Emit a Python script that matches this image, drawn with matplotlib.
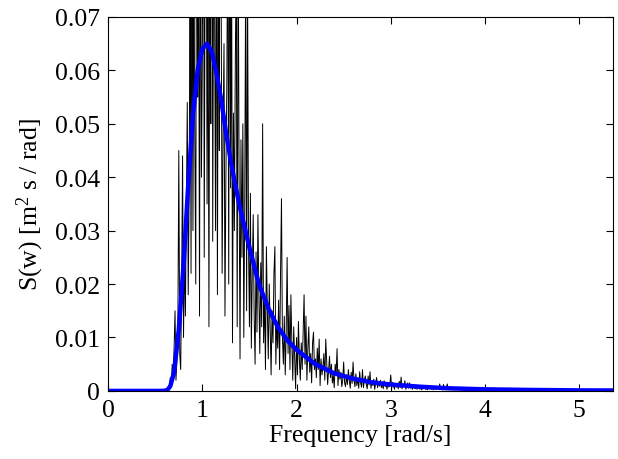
import numpy as np
import matplotlib
matplotlib.use("Agg")
import matplotlib.pyplot as plt

plt.rcParams['font.family'] = ['Liberation Serif', 'DejaVu Serif']
plt.rcParams['mathtext.fontset'] = 'custom'
plt.rcParams['mathtext.rm'] = 'Liberation Serif'
plt.rcParams['mathtext.it'] = 'Liberation Serif:italic'

# Smooth theoretical spectrum (blue)
model_freq = [0.0, 0.55, 0.60, 0.63, 0.66, 0.70, 0.75, 0.80, 0.85, 0.90, 0.95,
              1.00, 1.05, 1.10, 1.15, 1.20, 1.25, 1.30, 1.35, 1.40, 1.50,
              1.60, 1.70, 1.80, 1.90, 2.00, 2.20, 2.40, 2.60, 2.80, 3.00,
              3.30, 3.60, 4.00, 4.50, 5.00, 5.36]
model_spec = [0.0, 0.0, 0.00003, 0.0002, 0.0009, 0.0035, 0.0115, 0.0235, 0.0385, 0.0515, 0.0600,
              0.0640, 0.0650, 0.0635, 0.0595, 0.0545, 0.0485, 0.0432, 0.0385, 0.0343, 0.0268,
              0.0200, 0.0155, 0.0120, 0.0095, 0.0077, 0.0050, 0.0033, 0.0023, 0.0016, 0.0012,
              0.0008, 0.0005, 0.0003, 0.00018, 0.0001, 0.00008]

# Raw (noisy) spectrum estimate, black, in units of 1e-3, sampled every 0.01 rad/s from 0.6
raw_start = 0.6
raw_step = 0.01
raw_spec_milli = [
    0, 0, 0, 0, 0.2, 0.8, 2.5, 1, 5, 3,
    8, 15, 2, 6, 11, 45, 7, 4, 20, 44,
    10, 26, 14, 35, 54, 18, 38, 80, 22, 95,
    30, 75, 48, 20, 120, 55, 90, 14, 105, 40,
    62, 140, 25, 88, 110, 35, 78, 12, 95, 50,
    160, 28, 85, 72, 30, 100, 18, 92, 45, 130,
    74, 22, 48, 65, 14, 40, 58, 92, 20, 110,
    38, 85, 9, 52, 30, 62, 75, 12, 88, 40,
    6, 47, 25, 50, 10, 35, 80, 15, 76, 28,
    12, 37, 8, 22, 33, 14, 5, 26, 11, 33,
    18, 7, 24, 12, 50, 9, 18, 4, 27, 15,
    6, 20, 12, 3, 15, 9, 22, 27, 5, 13,
    8, 17, 4, 22, 36, 10, 5, 14, 3, 11,
    25, 7, 16, 4, 18, 9, 2, 12, 6, 0.4,
    10, 3, 13, 6, 2, 9, 4, 11, 18, 5,
    14, 2, 8, 12, 3.5, 7, 1.5, 9, 11, 4,
    6, 2.5, 8, 4, 9.7, 1, 6, 3, 4.5, 7,
    2, 9.7, 5.5, 1.2, 4, 6.5, 2.5, 5, 1.5, 3,
    0.6, 5, 3, 7.9, 1, 4, 2.2, 3.5, 0.8, 2,
    5.4, 1.5, 0.8, 3, 1.2, 4, 2, 0.5, 3.5, 1.4,
    5.4, 2, 0.8, 3.2, 1, 2.4, 0.5, 3.6, 1.5, 0.7,
    4, 0.6, 2, 2.8, 1.2, 0.4, 2.8, 1.1, 3.6, 0.5,
    1.8, 1, 2.2, 0.3, 1.5, 2.5, 0.6, 1.7, 0.9, 2,
    0.6, 1.4, 0.4, 1.9, 0.8, 1.2, 0.3, 1.6, 0.7, 1.1,
    3, 0.5, 1.6, 0.9, 0.3, 1.4, 0.7, 1.1, 0.4, 1.8,
    0.6, 2.6, 0.4, 1.1, 0.8, 1.9, 0.3, 0.8, 1.5, 0.5,
    1.5, 0.5, 0.9, 0.3, 1.1, 0.6, 0.4, 0.9, 0.3, 0.7,
    0.9, 0.3, 0.6, 0.2, 0.8, 0.4, 0.7, 0.3, 0.5, 0.2,
    0.6, 0.4, 0.5, 0.3, 0.7, 0.2, 0.4, 0.6, 0.3, 0.5,
    0.6, 0.4, 1.3, 0.3, 0.5, 0.2, 1.2, 0.4, 0.3, 0.6,
    1.3, 0.3, 0.4, 0.2, 0.5, 0.3, 0.6, 0.2, 0.4, 0.3,
    0.3, 0.5, 0.2, 0.3, 0.4, 0.2, 0.3, 0.2, 0.5, 0.2,
    0.3, 0.2, 0.4, 0.2, 0.3, 0.1, 0.2, 0.3, 0.1, 0.2,
    0.2, 0.3, 0.1, 0.2, 0.1, 0.3, 0.1, 0.7, 0.2, 0.1,
    0.2, 0.1, 0.2, 0.1, 0.3, 0.1, 0.1, 0.2, 0.1, 0.1,
    0.1, 0.2, 0.1, 0.1, 0.2, 0.1, 0.1, 0.1, 0.1, 0.1,
]

x_ticks = [0, 1, 2, 3, 4, 5]
y_ticks = [0, 0.01, 0.02, 0.03, 0.04, 0.05, 0.06, 0.07]
y_tick_labels = ['0', '0.01', '0.02', '0.03', '0.04', '0.05', '0.06', '0.07']

raw_spec = np.array(raw_spec_milli) / 1000.0
raw_freq = raw_start + raw_step * np.arange(len(raw_spec))

fig = plt.figure(figsize=(6.18, 4.60), dpi=100)
ax = fig.add_axes([0.175, 0.148, 0.817, 0.813])

ax.plot(raw_freq, raw_spec, color='black', lw=0.7)
ax.plot(model_freq, model_spec, color='#0000ff', lw=3.2, solid_capstyle='butt')

ax.set_xlim(0, 5.36)
ax.set_ylim(0, 0.07)
ax.set_xticks(x_ticks)
ax.set_xticklabels([str(t) for t in x_ticks])
ax.set_yticks(y_ticks)
ax.set_yticklabels(y_tick_labels)
ax.tick_params(direction='in', length=5, width=0.8, top=True, right=True,
               labelsize=18.5, pad=6)
for s in ax.spines.values():
    s.set_linewidth(0.8)

ax.set_xlabel('Frequency [rad/s]', fontsize=18.5, labelpad=2)
ax.set_ylabel('S(w) [m$^2$ s / rad]', fontsize=18.5, labelpad=6)

fig.savefig('out.png', dpi=100)
